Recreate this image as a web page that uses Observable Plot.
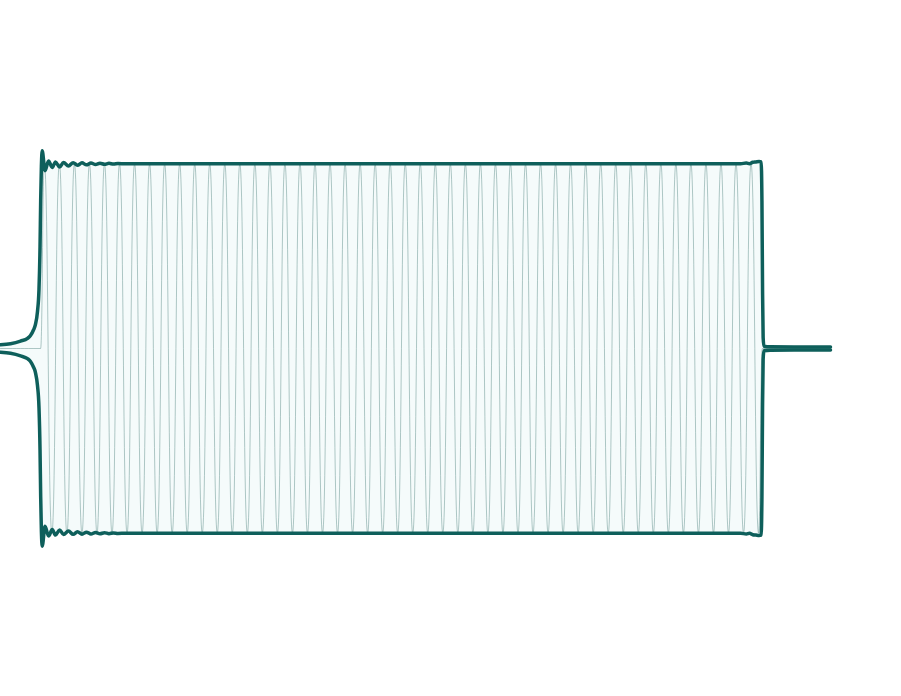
<!DOCTYPE html>
<html>
<head>
<meta charset="utf-8">
<script src="https://cdn.jsdelivr.net/npm/d3@7"></script>
<script src="https://cdn.jsdelivr.net/npm/@observablehq/plot@0.6"></script>
<style>
  html, body { margin: 0; padding: 0; background: #ffffff; }
  #chart svg { display: block; }
</style>
</head>
<body>
<div id="chart"></div>
<script>
// ---- Data (time in ms, amplitude in signal units) ----
// Pulse of 48 carrier cycles between pulseStart and pulseEnd
const pulseStart = 50;
const pulseEnd = 950;
const timeEnd = 1035;
// Carrier extrema (one per half cycle)
const carrierPeaks = [
  1, -1, 1, -1, 1, -1, 1, -1, 1, -1, 1, -1,
  1, -1, 1, -1, 1, -1, 1, -1, 1, -1, 1, -1,
  1, -1, 1, -1, 1, -1, 1, -1, 1, -1, 1, -1,
  1, -1, 1, -1, 1, -1, 1, -1, 1, -1, 1, -1,
  1, -1, 1, -1, 1, -1, 1, -1, 1, -1, 1, -1,
  1, -1, 1, -1, 1, -1, 1, -1, 1, -1, 1, -1,
  1, -1, 1, -1, 1, -1, 1, -1, 1, -1, 1, -1,
  1, -1, 1, -1, 1, -1, 1, -1, 1, -1, 1, -1
];
// Envelope (upper; lower is its mirror)
const envTime = [0, 12.5, 25, 33.7, 37.4, 41.1, 43.6, 46.1, 48.0, 49.3, 50.1, 51.0, 52.0,
  55.5, 59.9, 64.5, 68.6, 73.6, 78.6, 84.8, 90.6, 96, 101.6, 107.2, 112.8, 118.5, 124, 129.7,
  135.3, 140.9, 146.5, 156, 500, 923, 930, 934, 938, 942, 946, 948.5, 949.5, 950.3, 951, 952, 960, 1035];
const envValue = [0.02, 0.026, 0.04, 0.055, 0.07, 0.1, 0.13, 0.2, 0.32, 0.55, 0.8, 0.99, 1.07,
  0.962, 1.015, 0.98, 1.01, 0.982, 1.007, 0.988, 1.006, 0.992, 1.005, 0.994, 1.004, 0.996, 1.003, 0.997,
  1.002, 0.998, 1.001, 1.0, 1.0, 1.0, 1.004, 1.0, 1.008, 1.01, 1.012, 1.01, 0.8, 0.3, 0.06, 0.012, 0.009, 0.008];

// ---- Tables for the marks ----
const halfPeriod = (pulseEnd - pulseStart) / carrierPeaks.length;
const carrier = [
  {t: 0, v: 0},
  {t: pulseStart, v: 0},
  ...carrierPeaks.map((v, i) => ({t: pulseStart + halfPeriod * (i + 0.5), v})),
  {t: pulseEnd, v: 0},
  {t: timeEnd, v: 0}
];
const envelope = envTime.map((t, i) => ({t, v: envValue[i]}));

const teal = "#0e5f5b";

const chart = Plot.plot({
  width: 901,
  height: 696,
  marginLeft: 0,
  marginRight: 71,
  marginTop: 0,
  marginBottom: 0,
  x: {domain: [0, timeEnd], axis: null},
  y: {domain: [-1.8835, 1.8835], axis: null},
  marks: [
    Plot.areaY(envelope, {x: "t", y1: d => -d.v, y2: "v", curve: "monotone-x", fill: "#f5fbfb"}),
    Plot.line(carrier, {x: "t", y: "v", curve: "bump-x", stroke: "#5f8f8b", strokeWidth: 0.9, strokeOpacity: 0.55}),
    Plot.line(envelope, {x: "t", y: "v", curve: "monotone-x", stroke: teal, strokeWidth: 3.5}),
    Plot.line(envelope, {x: "t", y: d => -d.v, curve: "monotone-x", stroke: teal, strokeWidth: 3.5})
  ]
});
document.getElementById("chart").append(chart);
</script>
</body>
</html>
